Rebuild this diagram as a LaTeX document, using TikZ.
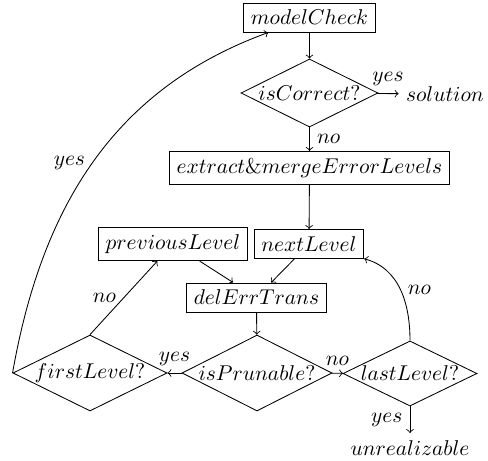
\documentclass[tikz,border=0pt]{standalone}
\usetikzlibrary{shapes.geometric}
\begin{document}
\begin{tikzpicture}[x=0.4673pt,y=0.4673pt,>=to,
  proc/.style={draw, rectangle},
  decision/.style={draw, diamond, aspect=2, inner sep=0pt},
  plain/.style={inner sep=3.33pt}]
\useasboundingbox (0,0) rectangle (488,-461);

% processing steps
\node[proc] (mc) at (309.5,-17.5) {$modelCheck$};
\node[decision, minimum width=64pt, minimum height=31.8pt] (ic) at (309.5,-93) {$isCorrect?$};
\node[plain] (sol) at (445,-94) {$solution$};
\node[proc] (ex) at (309.5,-168) {$extract\&mergeErrorLevels$};
\node[proc] (pl) at (173,-244) {$previousLevel$};
\node[proc] (nl) at (309,-244) {$nextLevel$};
\node[proc] (dt) at (256.5,-297.5) {$delErrTrans$};
\node[decision, minimum width=70.1pt, minimum height=35.5pt] (ip) at (257,-373) {$isPrunable?$};
\node[decision, minimum width=72pt, minimum height=35.5pt] (fl) at (90,-373) {$firstLevel?$};
\node[decision, minimum width=62.6pt, minimum height=30.4pt] (ll) at (410,-373.5) {$lastLevel?$};
\node[plain] (ur) at (410,-448) {$unrealizable$};

% flow
\draw[->] (mc) -- (ic);
\draw[->] (ic) -- node[above] {$yes$} (sol);
\draw[->] (ic) -- node[right] {$no$} (ex);
\draw[->] (ex) -- (nl);
\draw[->] (pl) -- (dt);
\draw[->] (nl) -- (dt);
\draw[->] (dt) -- (ip);
\draw[->] (ip) -- node[above] {$yes$} (fl);
\draw[->] (ip) -- node[above] {$no$} (ll);
\draw[->] (fl.north) -- node[left] {$no$} (pl);
\draw[->] (ll.north) to[out=90, in=-15] node[right] {$no$} (nl);
\draw[->] (ll) -- node[left] {$yes$} (ur);
\draw[->] (fl.west) to[out=80, in=-160] node[left] {$yes$} (mc);
\end{tikzpicture}
\end{document}
